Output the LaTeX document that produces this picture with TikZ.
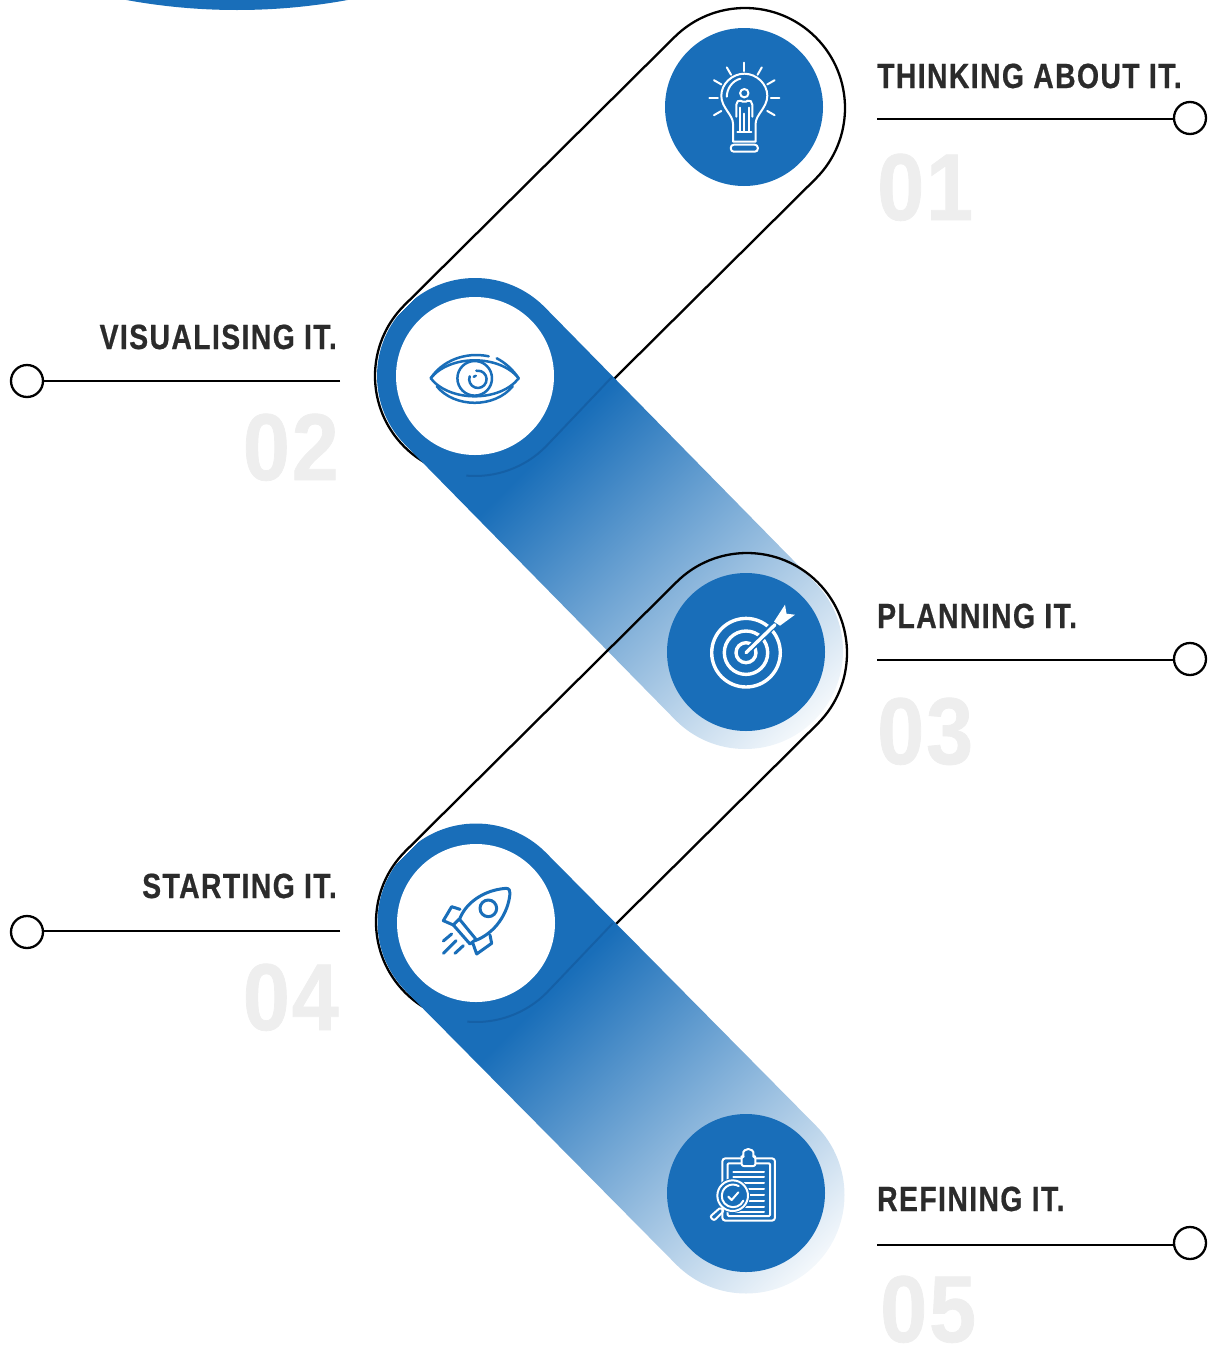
\documentclass[tikz,border=0pt]{standalone}
\usepackage{fontspec}
\setmainfont[FakeStretch=0.81,LetterSpace=4,BoldFeatures={FakeBold=0.6}]{Liberation Sans}
\newfontfamily\numfont[FakeStretch=0.89,LetterSpace=2,BoldFeatures={FakeBold=0.8}]{Liberation Sans}
\usetikzlibrary{calc}
\definecolor{mainblue}{HTML}{196EB9}
\definecolor{darkline}{HTML}{1560A6}
\definecolor{labeltext}{HTML}{2B2B2B}
\definecolor{numgray}{HTML}{EEEEEE}
\pgfdeclarehorizontalshading{capsfade}{240pt}{rgb(0pt)=(0.098,0.431,0.725); rgb(200pt)=(0.098,0.431,0.725); rgb(600pt)=(1,1,1)}
\tikzset{
  ring/.style={circle,draw=black,line width=2.3pt,fill=white,minimum size=32pt,inner sep=0pt},
  rule/.style={draw=black,line width=2.3pt},
  title/.style={font=\bfseries\fontsize{35}{35}\selectfont,text=labeltext,inner sep=0pt},
  numeral/.style={font=\numfont\bfseries\fontsize{95}{95}\selectfont,text=numgray,inner sep=0pt},
  outline/.style={draw=black,line width=2.3pt},
  disc/.style={circle,minimum size=158pt,inner sep=0pt},
  wicon/.style={draw=white,line width=2pt,line cap=round,line join=round},
  bicon/.style={draw=mainblue,line width=2.5pt,line cap=round,line join=round}
}
\newcommand{\outlinecaps}[3]{\draw[outline] (#1)++(225:#3) arc[start angle=225,end angle=405,radius=#3] -- ($(#2)+(45:#3)$) arc[start angle=45,end angle=225,radius=#3] -- cycle;}
\newcommand{\fadecaps}[5]{% a, b, r, start, name
  \begin{scope}
    \clip (#1)++(315:#3) -- ($(#2)+(315:#3)$) arc[start angle=315,end angle=495,radius=#3] -- ($(#1)+(135:#3)$) arc[start angle=135,end angle=315,radius=#3] -- cycle;
    \node[anchor=west,rotate=-45.3,inner sep=0pt,outer sep=0pt] (#5) at (#4) {\pgfuseshading{capsfade}};
  \end{scope}}
\begin{document}
\begin{tikzpicture}[x=1pt,y=-1pt]
\useasboundingbox (0,0) rectangle (1211,1347);
\begin{scope}
\clip (0,0) rectangle (1211,1347);
\fill[mainblue] (237,-600) circle[radius=610];
\end{scope}
% centres
\coordinate (t1) at (745,108);
\coordinate (t2) at (475,376);
\coordinate (t3) at (747,653);
\coordinate (t3f) at (745,651);
\coordinate (t4) at (476,922);
\coordinate (t5) at (746,1195);
% capsule 1
\outlinecaps{t1}{t2}{100}
\fadecaps{t2}{t3f}{98}{406.4,306}{fadeA}
\draw[darkline,line width=2pt] (612,377) -- ($(t2)+(45:100)$) arc[start angle=45,end angle=95,radius=100];
% capsule 2
\outlinecaps{t3}{t4}{100}
\fadecaps{t4}{t5}{98.5}{407,852.5}{fadeB}
\draw[darkline,line width=2pt] (613,923) -- ($(t4)+(45:100)$) arc[start angle=45,end angle=95,radius=100];
% discs
\node[disc,fill=mainblue] (d1) at (744,107) {};
\node[disc,fill=white] (d2) at (475,376) {};
\node[disc,fill=mainblue] (d3) at (746,652) {};
\node[disc,fill=white] (d4) at (476,923) {};
\node[disc,fill=mainblue] (d5) at (746,1193) {};
% bulb icon
\begin{scope}[wicon,shift={(744.3,97.7)}]
\foreach \a in {0,-30,-60,-90,-120,-150,180,30,150} \draw (\a:26.5) -- (\a:35);
\draw (-11.3,34) -- (-11.3,26) .. controls (-11.3,17) and (-23,10) .. (-23,-2) .. controls (-23,-14) and (-12,-24) .. (0,-24) .. controls (12,-24) and (23,-14) .. (23,-2) .. controls (23,10) and (11.3,17) .. (11.3,26) -- (11.3,44) -- (-11.3,44) -- cycle;
\draw (-17.5,-1) .. controls (-17.5,-9) and (-12,-17) .. (-4,-19);
\draw (-7,34) -- (7,34);
\draw[rounded corners=3pt] (-13.5,47) rectangle (13.5,54);
\draw (0,-4.5) circle[radius=4.2];
\draw[rounded corners=2pt] (-8,19) -- (-8,5) -- (-5,2) -- (0,5) -- (5,2) -- (8,5) -- (8,19);
\draw (-4.5,10) -- (-4.5,34) (4.5,10) -- (4.5,34) (0,16) -- (0,34);
\end{scope}
% eye icon
\begin{scope}[bicon,shift={(474.7,378.3)}]
\draw (-44,0) .. controls (-25,-24) and (25,-24) .. (44,0) .. controls (25,24) and (-25,24) .. (-44,0) -- cycle;
\draw (-44,0) .. controls (-33,-17) and (-10,-27) .. (14,-22);
\draw (22,-20) .. controls (30,-16) and (38,-9) .. (44,0);
\draw (-38,8) .. controls (-20,30) and (20,30) .. (38,8);
\draw[fill=white] (0,0) circle[radius=17.3];
\draw (-5,-2) arc[start angle=200,end angle=-100,radius=8.7];
\draw (-1,-1.5) arc[start angle=210,end angle=280,radius=2];
\end{scope}
% target icon
\begin{scope}[shift={(746,652.7)}]
\draw[white,line width=3.4pt] (0,0) circle[radius=34.3] (0,0) circle[radius=21.7] (0,0) circle[radius=10];
\draw[mainblue,line width=7pt] (1,-1) -- (26,-26);
\draw[white,line width=3.4pt,line cap=round] (0,0) -- (29,-28);
\fill[white] (28,-31) -- (39,-48) -- (40.5,-39) -- (49,-38) -- (34,-27) -- cycle;
\end{scope}
% rocket icon
\begin{scope}[bicon,line width=3pt,shift={(420,870)},x=0.3333pt,y=-0.3333pt]
\draw (118,150) .. controls (135,100) and (190,60) .. (258,55) .. controls (268,55) and (270,62) .. (270,70) .. controls (265,130) and (225,190) .. (165,212);
\draw (100,165) -- (118,147) -- (168,208) -- (150,222) -- cycle;
\draw (120,118) -- (95,110) -- (70,152) -- (100,165);
\draw (210,195) -- (215,220) -- (170,252) -- (158,218);
\draw (205,115) circle[radius=25];
\draw (70,213) -- (95,192) (70,250) -- (108,212) (105,250) -- (130,227);
\end{scope}
% clipboard icon
\begin{scope}[wicon,shift={(690,1130)},x=0.3333pt,y=-0.3333pt]
\draw[rounded corners=3pt] (97,85) rectangle (255,272);
\draw[rounded corners=1pt] (113,100) rectangle (240,258);
\draw[fill=mainblue,rounded corners=2pt] (155,80) -- (160,80) -- (160,72) arc[start angle=180,end angle=360,radius=15] -- (190,80) -- (196,80) -- (196,108) -- (155,108) -- cycle;
\foreach \y in {125,142,160,178,195,212,230,245} \draw (130,\y) -- (222,\y);
\fill[mainblue] (128,197) circle[radius=52];
\draw (128,197) circle[radius=46];
\draw (160,212) arc[start angle=25,end angle=300,radius=34];
\draw (115,200) -- (125,210) -- (145,187);
\draw[rounded corners=2pt] (92,232) -- (102,242) -- (72,272) -- (60,260) -- cycle;
\end{scope}
% labels
\node[ring] (c1) at (1190,118) {};
\coordinate (l1) at (877,119);
\draw[rule] (l1) -- (l1 -| c1.west);
\node[title,anchor=base west] (tt1) at (877,88) {THINKING ABOUT IT.};
\node[numeral,anchor=base west] (n1) at (877,220) {01};
\node[ring] (c2) at (27,381) {};
\coordinate (l2) at (340,381);
\draw[rule] (l2) -- (l2 -| c2.east);
\node[title,anchor=base east] (tt2) at (337,349) {VISUALISING IT.};
\node[numeral,anchor=base east] (n2) at (339,480) {02};
\node[ring] (c3) at (1190,659) {};
\coordinate (l3) at (877,660);
\draw[rule] (l3) -- (l3 -| c3.west);
\node[title,anchor=base west] (tt3) at (877,628) {PLANNING IT.};
\node[numeral,anchor=base west] (n3) at (877,764) {03};
\node[ring] (c4) at (27,932) {};
\coordinate (l4) at (340,931);
\draw[rule] (l4) -- (l4 -| c4.east);
\node[title,anchor=base east] (tt4) at (337,898) {STARTING IT.};
\node[numeral,anchor=base east] (n4) at (339,1030) {04};
\node[ring] (c5) at (1190,1243) {};
\coordinate (l5) at (877,1245);
\draw[rule] (l5) -- (l5 -| c5.west);
\node[title,anchor=base west] (tt5) at (877,1211) {REFINING IT.};
\node[numeral,anchor=base west] (n5) at (880,1342) {05};
\end{tikzpicture}
\end{document}
